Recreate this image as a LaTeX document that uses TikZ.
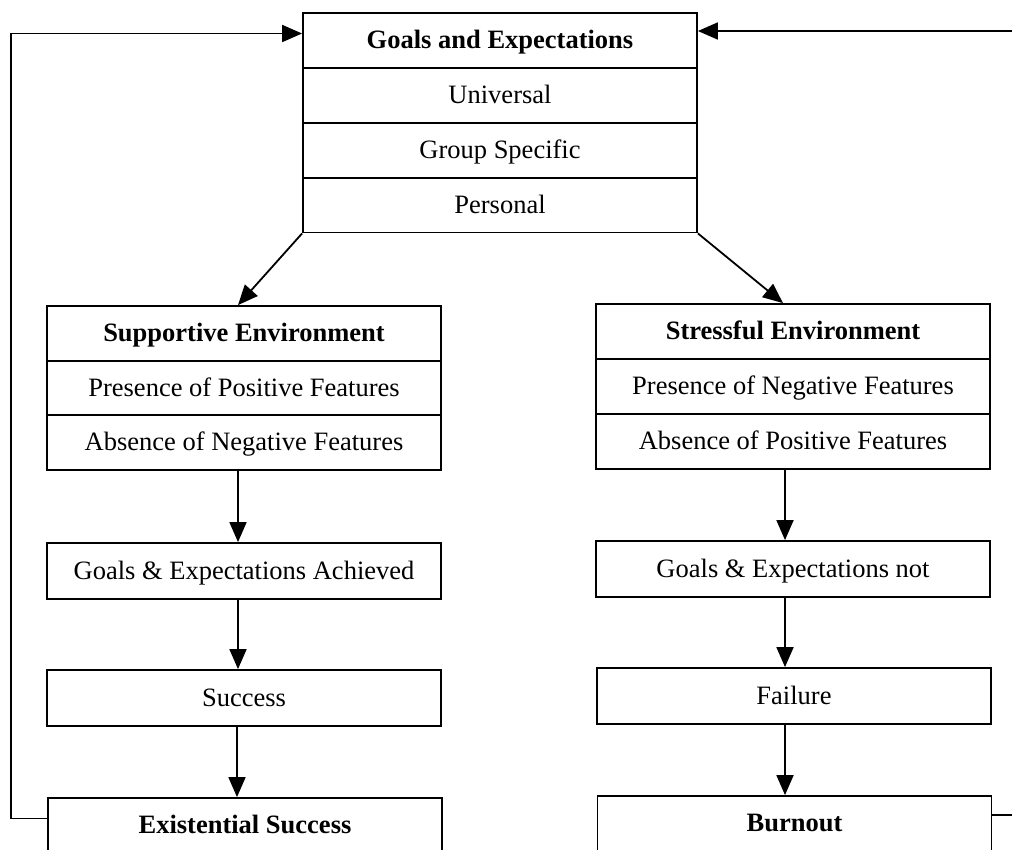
\documentclass[tikz,border=0pt]{standalone}
\usepackage{fontspec}
\setmainfont{Liberation Serif}
\usetikzlibrary{arrows.meta}
\begin{document}
\begin{tikzpicture}[x=1pt,y=-1pt,
  cell/.style={draw, line width=1.8pt, minimum width=394pt, minimum height=55pt, inner sep=0pt,
    text height=21pt, text depth=5pt,
    font=\fontsize{26.5}{30}\selectfont},
  head/.style={cell, font=\fontsize{26.5}{30}\selectfont\bfseries},
  arr/.style={line width=1.8pt, -{Triangle[length=20pt,width=17pt]}}]
\useasboundingbox (0,0) rectangle (1012,849);
\clip (0,0) rectangle (1012,849);
\fill[white] (0,0) rectangle (1012,849);
% Goals block
\node[head] (g1) at (500,40.5) {Goals and Expectations};
\node[cell] (g2) at (500,95.5) {Universal};
\node[cell] (g3) at (500,150.5) {Group Specific};
\node[cell] (g4) at (500,205) {Personal};
% Supportive block
\node[head] (s1) at (244,333.5) {Supportive Environment};
\node[cell] (s2) at (244,388) {Presence of Positive Features};
\node[cell] (s3) at (244,442.5) {Absence of Negative Features};
\node[cell, minimum height=56pt] (s4) at (244,571) {Goals \& Expectations Achieved};
\node[cell, minimum height=56pt] (s5) at (244,698) {Success};
\node[head] (s6) at (245,825.5) {Existential Success};
% Stressful block
\node[head] (t1) at (793,331.5) {Stressful Environment};
\node[cell] (t2) at (793,386.5) {Presence of Negative Features};
\node[cell] (t3) at (793,441.5) {Absence of Positive Features};
\node[cell, minimum height=56pt] (t4) at (793,569) {Goals \& Expectations not};
\node[cell, minimum height=56pt] (t5) at (794,696) {Failure};
\node[head] (t6) at (794.5,823.5) {Burnout};
% arrows
\draw[arr] (g4.south west) -- ([xshift=-6pt]s1.north);
\draw[arr] (g4.south east) -- ([xshift=-10pt]t1.north);
\draw[arr] ([xshift=-6pt]s3.south) -- ([xshift=-6pt]s3.south |- s4.north);
\draw[arr] ([xshift=-6pt]s4.south) -- ([xshift=-6pt]s4.south |- s5.north);
\draw[arr] ([xshift=-7pt]s5.south) -- ([xshift=-7pt]s5.south |- s6.north);
\draw[arr] ([xshift=-8pt]t3.south) -- ([xshift=-8pt]t3.south |- t4.north);
\draw[arr] ([xshift=-8pt]t4.south) -- ([xshift=-8pt]t4.south |- t5.north);
\draw[arr] ([xshift=-9pt]t5.south) -- ([xshift=-9pt]t5.south |- t6.north);
% feedback loops
\draw[arr] ([yshift=7pt]s6.west) -- ++(-36,0) |- ([yshift=7pt]g1.west);
\draw[arr] ([yshift=8.5pt]t6.east) -- ++(40,0) |- ([yshift=9.5pt]g1.east);
\end{tikzpicture}
\end{document}
